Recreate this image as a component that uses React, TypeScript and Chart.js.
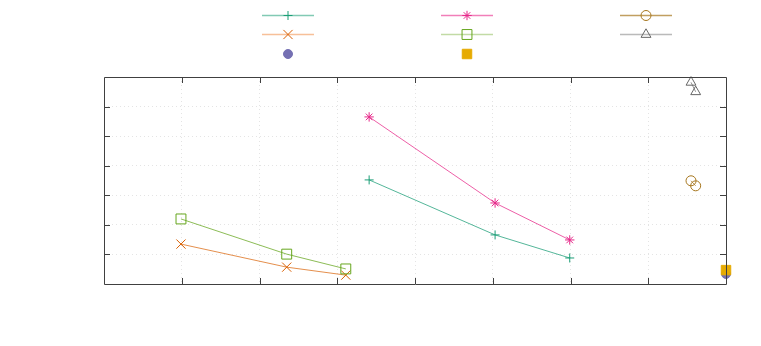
import React, { useEffect, useRef } from "react";
import { Chart, registerables } from "chart.js";
import { drawPoint } from "chart.js/helpers";

Chart.register(...registerables);

// Series data (x, y)
const tealX = [3.41, 5.03, 5.99];
const tealY = [3.52, 1.66, 0.88];
const orangeX = [0.99, 2.35, 3.11];
const orangeY = [1.35, 0.57, 0.3];
const purpleX = [8.0];
const purpleY = [0.34];
const magentaX = [3.41, 5.03, 5.99];
const magentaY = [5.65, 2.74, 1.49];
const greenX = [0.99, 2.35, 3.11];
const greenY = [2.2, 1.01, 0.51];
const yellowX = [8.0];
const yellowY = [0.47];
const brownX = [7.55, 7.61];
const brownY = [3.49, 3.32];
const grayX = [7.55, 7.61];
const grayY = [6.82, 6.5];

const xTicks = [0, 1, 2, 3, 4, 5, 6, 7, 8];
const yTicks = [0, 1, 2, 3, 4, 5, 6, 7];

const pts = (xs: number[], ys: number[]) => xs.map((x, i) => ({ x, y: ys[i] }));

const frameAndLegend = {
  id: "frameAndLegend",
  afterDatasetsDraw(chart: any) {
    const ctx = chart.ctx;
    const { left, right, top, bottom } = chart.chartArea;
    const xs = chart.scales.x;
    const ys = chart.scales.y;
    ctx.save();
    ctx.strokeStyle = "#404040";
    ctx.lineWidth = 1;
    ctx.beginPath();
    ctx.rect(Math.round(left) + 0.5, Math.round(top) + 0.5, Math.round(right - left), Math.round(bottom - top));
    ctx.stroke();
    // inward tick marks
    ctx.beginPath();
    xTicks.slice(1, -1).forEach((v) => {
      const px = Math.round(xs.getPixelForValue(v)) + 0.5;
      ctx.moveTo(px, bottom);
      ctx.lineTo(px, bottom - 6);
      ctx.moveTo(px, top);
      ctx.lineTo(px, top + 6);
    });
    yTicks.slice(1, -1).forEach((v) => {
      const py = Math.round(ys.getPixelForValue(v)) + 0.5;
      ctx.moveTo(left, py);
      ctx.lineTo(left + 6, py);
      ctx.moveTo(right, py);
      ctx.lineTo(right - 6, py);
    });
    ctx.stroke();
    ctx.restore();
  },
  afterDraw(chart: any) {
    const ctx = chart.ctx;
    const colX = [288, 467, 646];
    const rowY = [15.5, 34.5, 54];
    chart.data.datasets.forEach((ds: any, i: number) => {
      const cx = colX[Math.floor(i / 3)];
      const cy = rowY[i % 3];
      ctx.save();
      if (ds.showLine !== false) {
        ctx.strokeStyle = ds.legendLine;
        ctx.lineWidth = 1.5;
        ctx.beginPath();
        ctx.moveTo(cx - 26, cy);
        ctx.lineTo(cx + 26, cy);
        ctx.stroke();
      }
      ctx.strokeStyle = ds.pointBorderColor;
      ctx.fillStyle = ds.pointBackgroundColor;
      ctx.lineWidth = 1;
      drawPoint(ctx, { pointStyle: ds.pointStyle, radius: ds.pointRadius, rotation: 0, borderWidth: 1 }, cx, cy);
      ctx.restore();
    });
  },
};

export default function App() {
  const ref = useRef<HTMLCanvasElement>(null);
  useEffect(() => {
    document.body.style.margin = "0";
    let idx = 0;
    const mk = (
      xs: number[], ys: number[], color: string, line: string, legendLine: string,
      style: string, radius: number, filled = false, showLine = true
    ) => ({
      data: pts(xs, ys),
      order: -(idx++),
      showLine,
      borderColor: line,
      borderWidth: 1,
      legendLine,
      pointStyle: style,
      pointRadius: radius,
      pointBorderColor: color,
      pointBackgroundColor: filled ? color : "rgba(0,0,0,0)",
      pointBorderWidth: 1,
      clip: false,
    });
    const chart = new Chart(ref.current!, {
      type: "scatter",
      data: {
        datasets: [
          mk(tealX, tealY, "#1b9e77", "rgba(27,158,119,0.75)", "rgba(27,158,119,0.55)", "cross", 4.5),
          mk(orangeX, orangeY, "#d95f02", "rgba(217,95,2,0.7)", "rgba(240,140,70,0.55)", "crossRot", 6.5),
          mk(purpleX, purpleY, "#7570b3", "#7570b3", "#7570b3", "circle", 4.5, true, false),
          mk(magentaX, magentaY, "#e7298a", "rgba(231,41,138,0.75)", "rgba(231,41,138,0.6)", "star", 4.7),
          mk(greenX, greenY, "#66a61e", "rgba(102,166,30,0.75)", "rgba(102,166,30,0.4)", "rect", 7),
          mk(yellowX, yellowY, "#e6ab02", "#e6ab02", "#e6ab02", "rect", 6.7, true, false),
          mk(brownX, brownY, "#a6761d", "rgba(166,118,29,0.75)", "rgba(166,118,29,0.7)", "circle", 5),
          mk(grayX, grayY, "#666666", "rgba(102,102,102,0.7)", "rgba(102,102,102,0.45)", "triangle", 5.7),
        ] as any,
      },
      options: {
        animation: false,
        responsive: false,
        maintainAspectRatio: false,
        layout: { padding: { left: 104, top: 77, right: 35, bottom: 62 } },
        plugins: { legend: { display: false }, tooltip: { enabled: false } },
        elements: { line: { tension: 0 } },
        scales: {
          x: {
            type: "linear",
            min: 0,
            max: 8,
            afterBuildTicks: (s: any) => { s.ticks = xTicks.map((v) => ({ value: v })); },
            ticks: { display: false },
            grid: { drawTicks: false, color: "#e4e4e4", lineWidth: 1 },
            border: { display: false, dash: [1, 3] },
          },
          y: {
            type: "linear",
            min: 0,
            max: 7,
            afterBuildTicks: (s: any) => { s.ticks = yTicks.map((v) => ({ value: v })); },
            ticks: { display: false },
            grid: { drawTicks: false, color: "#e4e4e4", lineWidth: 1 },
            border: { display: false, dash: [1, 3] },
          },
        },
      } as any,
      plugins: [frameAndLegend],
    });
    return () => chart.destroy();
  }, []);
  return (
    <div style={{ position: "relative", width: 761, height: 346, background: "#fff" }}>
      <canvas ref={ref} width={761} height={346} style={{ display: "block", width: 761, height: 346 }} />
    </div>
  );
}
